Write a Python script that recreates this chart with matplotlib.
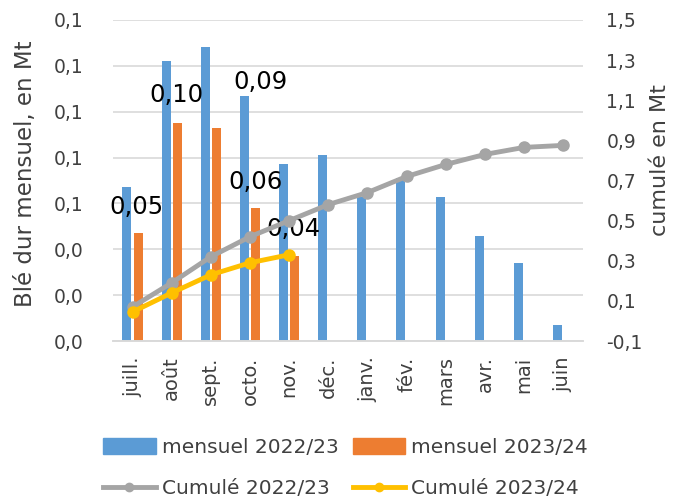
import numpy as np
import matplotlib.pyplot as plt
from matplotlib.ticker import FuncFormatter, MultipleLocator, FixedLocator
from matplotlib.lines import Line2D
from matplotlib.patches import Patch

plt.rcParams['font.family'] = ['DejaVu Sans']

months = ['juill.', 'août', 'sept.', 'octo.', 'nov.', 'déc.',
          'janv.', 'fév.', 'mars', 'avr.', 'mai', 'juin']

# monthly volumes (left axis)
mensuel_2223 = [0.067, 0.122, 0.128, 0.107, 0.077, 0.081,
                0.063, 0.071, 0.063, 0.046, 0.034, 0.007]
mensuel_2324 = [0.047, 0.095, 0.093, 0.058, 0.037]

# cumulated volumes (right axis)
cumul_2223 = [0.07, 0.19, 0.32, 0.42, 0.50, 0.58,
              0.64, 0.72, 0.78, 0.83, 0.865, 0.875]
cumul_2324 = [0.045, 0.14, 0.23, 0.29, 0.33]

# where the value labels of the 2023/24 bars sit (x in category units, y in left-axis units)
label_x = [0.1, 1.11, 3.28, 3.13, 4.1]
label_y = [0.0586, 0.1073, 0.1131, 0.0693, 0.0488]

blue = '#5B9BD5'
orange = '#ED7D31'
grey = '#A5A5A5'
yellow = '#FFC000'
txt = '#404040'

def comma(v, pos):
    return f'{v:.1f}'.replace('.', ',')

fig = plt.figure(figsize=(6.91, 4.99), dpi=100)
ax = fig.add_axes([0.1635, 0.3166, 0.680, 0.6434])
ax2 = ax.twinx()

x = np.arange(len(months))
w = 0.23
ax.bar(x - 0.145, mensuel_2223, w, color=blue, zorder=2)
ax.bar(x[:len(mensuel_2324)] + 0.145, mensuel_2324, w, color=orange, zorder=2)

for xi, yi, v in zip(label_x, label_y, mensuel_2324):
    ax.text(xi, yi, f'{v:.2f}'.replace('.', ','), ha='center', va='center',
            fontsize=17.5, color='black', zorder=5)

ax2.plot(x, cumul_2223, color=grey, lw=3.5, marker='o', ms=8, zorder=3)
ax2.plot(x[:len(cumul_2324)], cumul_2324, color=yellow, lw=3.5, marker='o', ms=8, zorder=4)

ax.set_xlim(-0.5, 11.5)
ax.set_ylim(0, 0.14)
ax2.set_ylim(-0.1, 1.5)
ax.yaxis.set_major_locator(MultipleLocator(0.02))
ax2.yaxis.set_major_locator(FixedLocator(np.arange(-0.1, 1.55, 0.2)))
ax.yaxis.set_major_formatter(FuncFormatter(comma))
ax2.yaxis.set_major_formatter(FuncFormatter(comma))

ax.set_xticks(x)
ax.set_xticklabels(months, rotation=90, fontsize=14, color=txt)
ax.tick_params(axis='x', length=0, pad=11)
ax.tick_params(axis='y', length=0, labelsize=13.5, labelcolor=txt, pad=21)
ax2.tick_params(axis='y', length=0, labelsize=13.5, labelcolor=txt, pad=17)

ax.grid(axis='y', color='#D9D9D9', lw=1.2, zorder=0)
ax.set_axisbelow(True)
for a in (ax, ax2):
    for s in ('top', 'left', 'right'):
        a.spines[s].set_visible(False)
    a.spines['bottom'].set_color('#D9D9D9')
    a.spines['bottom'].set_linewidth(1.2)
ax.set_zorder(ax2.get_zorder() - 1)
ax.patch.set_visible(False)

ax.set_ylabel('Blé dur mensuel, en Mt', fontsize=16.5, color=txt)
ax.yaxis.set_label_coords(-0.162, 0.52)
ax2.set_ylabel('cumulé en Mt', fontsize=16, color=txt)
ax2.yaxis.set_label_coords(1.143, 0.564)

handles = [
    Patch(color=blue, label='mensuel 2022/23'),
    Line2D([], [], color=grey, lw=3.5, marker='o', ms=6, label='Cumulé 2022/23'),
    Patch(color=orange, label='mensuel 2023/24'),
    Line2D([], [], color=yellow, lw=3.5, marker='o', ms=6, label='Cumulé 2023/24'),
]
fig.legend(handles=handles, ncol=2, loc='lower center', bbox_to_anchor=(0.5, -0.035),
           frameon=False, fontsize=14.5, handlelength=2.6, handleheight=0.8,
           columnspacing=0.7, handletextpad=0.3, labelspacing=1.1,
           labelcolor=txt)

fig.savefig('out.png', dpi=100)
